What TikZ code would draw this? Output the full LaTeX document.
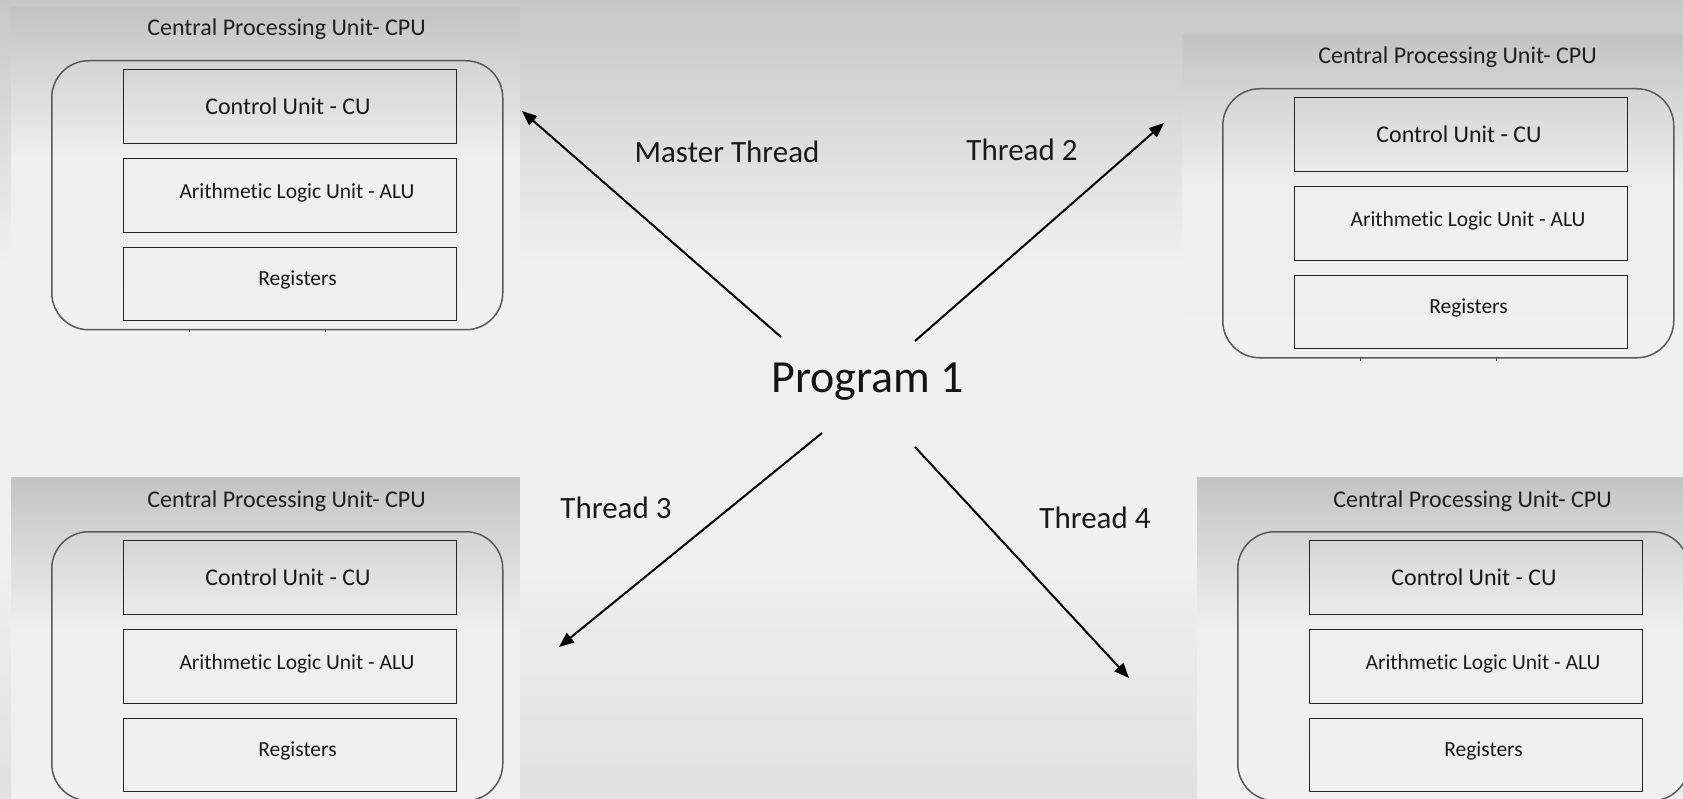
\documentclass[tikz,border=0pt]{standalone}
\usepackage{fontspec}
\setmainfont{Carlito}[Ligatures=NoCommon]
\usetikzlibrary{arrows.meta}

\tikzset{
  panel/.style={draw=none, anchor=north west, inner sep=0pt,
    minimum width=509pt, minimum height=326pt},
  shell/.style={draw=black!65, line width=1.5pt, rounded corners=37pt, anchor=north west,
    inner sep=0pt, minimum width=451pt, minimum height=269pt},
  unitbox/.style={draw=black!85, line width=1.3pt, anchor=north west, inner sep=0pt,
    minimum width=333pt, minimum height=74pt},
  headtext/.style={anchor=base, inner sep=0pt, text=black!88, font=\fontsize{24}{28}\selectfont},
  bigcell/.style={anchor=base, inner sep=0pt, text=black!90, font=\fontsize{24}{28}\selectfont},
  smallcell/.style={anchor=base, inner sep=0pt, text=black!90, font=\fontsize{21.5}{25}\selectfont},
  threadtext/.style={anchor=base, inner sep=0pt, text=black!90, font=\fontsize{31}{36}\selectfont},
  progtext/.style={anchor=base, inner sep=0pt, text=black!92, font=\fontsize{46}{52}\selectfont},
  flow/.style={line width=2pt, black, -{Triangle[length=15pt,width=12pt]}},
  tick/.style={line width=1pt, black!70},
}

% vertical grey fade built from thin strips:
% x0, x1, y0, y1, grey at y0, grey at y1, number of strips
\newcommand\vfade[7]{%
  \foreach \k in {1,...,#7} {
    \pgfmathsetmacro\fadeg{#5+(#6-#5)*(\k-0.5)/#7}
    \pgfmathsetmacro\fadetop{#3+(#4-#3)/#7*(\k-1)}
    \pgfmathsetmacro\fadebot{#3+(#4-#3)/#7*\k+0.6}
    \definecolor{fadecol}{gray}{\fadeg}
    \fill[fadecol] (#1,\fadetop) rectangle (#2,\fadebot);
  }%
}

% one CPU block: name, top-left x, top-left y
\newcommand\cpupanel[3]{%
  \vfade{#2}{\the\numexpr#2+509\relax}{#3}{\the\numexpr#3+150\relax}{0.765}{0.935}{38}
  \vfade{#2}{\the\numexpr#2+509\relax}{\the\numexpr#3+150\relax}{\the\numexpr#3+326\relax}{0.935}{0.942}{4}
  \node[panel] (#1) at (#2,#3) {};
  \node[shell] (#1s) at ([shift={(40,54)}]#1.north west) {};
  \node[unitbox] (#1cu) at ([shift={(112,63)}]#1.north west) {};
  \node[unitbox] (#1alu) at ([shift={(112,152)}]#1.north west) {};
  \node[unitbox, minimum height=73pt] (#1reg) at ([shift={(112,241)}]#1.north west) {};
  \node[headtext] (#1h) at ([shift={(275.5,30)}]#1.north west) {Central Processing Unit- CPU};
  \node[bigcell] (#1cut) at ([shift={(277,108.3)}]#1.north west) {Control Unit - CU};
  \node[smallcell] (#1alut) at ([shift={(286,192.3)}]#1.north west) {Arithmetic Logic Unit - ALU};
  \node[smallcell] (#1regt) at ([shift={(286.5,279.7)}]#1.north west) {Registers};
  \draw[tick] ([shift={(178,323)}]#1.north west) -- ++(0,3.5);
  \draw[tick] ([shift={(314,323)}]#1.north west) -- ++(0,3.5);
}

\begin{document}
\begin{tikzpicture}[x=1pt, y=-1pt]
  \useasboundingbox (0,0) rectangle (1683,799);
  \clip (0,0) rectangle (1683,799);
  % backdrop: grey at the top, light band, slightly darker at the bottom
  \vfade{0}{1683}{0}{260}{0.78}{0.94}{65}
  \fill[gray!12] (0,260) rectangle (1683,561);
  \vfade{0}{1683}{560}{799}{0.94}{0.88}{40}

  \cpupanel{tl}{11}{6}
  \cpupanel{tr}{1182}{34}
  \cpupanel{bl}{11}{477}
  \cpupanel{br}{1197}{477}

  \node[progtext] (prog) at (867.5,392) {Program 1};

  \node[threadtext] (lmaster) at (727,163) {Master Thread};
  \node[threadtext] (ltwo) at (1022,161) {Thread 2};
  \node[threadtext] (lthree) at (616,518) {Thread 3};
  \node[threadtext] (lfour) at (1095,528) {Thread 4};

  \coordinate (m0) at (781,337);  \coordinate (m1) at (522,111);
  \coordinate (t20) at (915,341); \coordinate (t21) at (1164,123);
  \coordinate (t30) at (822,433); \coordinate (t31) at (559,647);
  \coordinate (t40) at (915,447); \coordinate (t41) at (1129,678);

  \draw[flow] (m0) -- (m1);
  \draw[flow] (t20) -- (t21);
  \draw[flow] (t30) -- (t31);
  \draw[flow] (t40) -- (t41);
\end{tikzpicture}
\end{document}
